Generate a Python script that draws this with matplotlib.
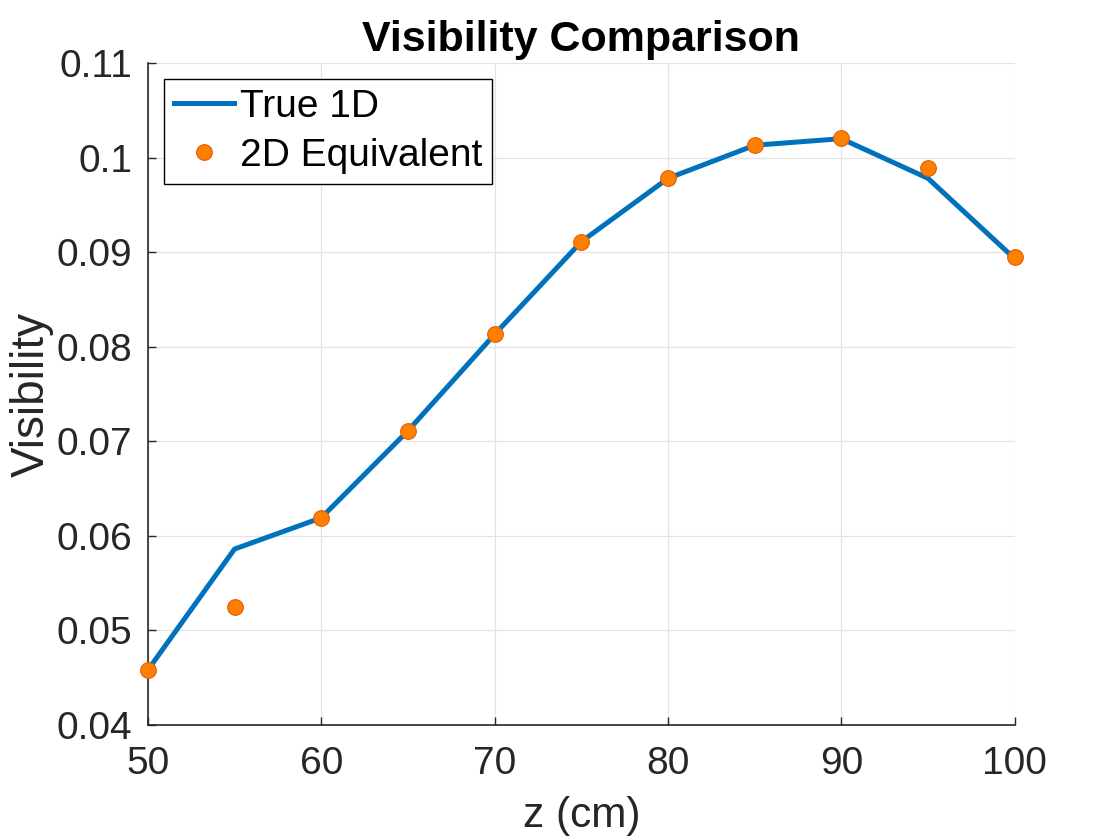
import matplotlib
matplotlib.use("Agg")
import matplotlib.pyplot as plt

z_line = [50, 55, 60, 65, 70, 75, 80, 85, 90, 95, 100]
vis_true = [0.0458, 0.0586, 0.0619, 0.0711, 0.0813, 0.0911, 0.0978, 0.1013, 0.1020, 0.0978, 0.0893]
z_pts = [50, 55, 60, 65, 70, 75, 80, 85, 90, 95, 100]
vis_2d = [0.0458, 0.0525, 0.0619, 0.0711, 0.0813, 0.0911, 0.0978, 0.1013, 0.1021, 0.0989, 0.0895]
xticks = [50, 60, 70, 80, 90, 100]
yticks = [0.04, 0.05, 0.06, 0.07, 0.08, 0.09, 0.1, 0.11]
ytick_labels = ["0.04", "0.05", "0.06", "0.07", "0.08", "0.09", "0.1", "0.11"]

plt.rcParams['font.family'] = ['Liberation Sans', 'DejaVu Sans']
dark = '#262626'

fig = plt.figure(figsize=(11.2, 8.4), dpi=100)
ax = fig.add_axes([0.132, 0.137, 0.774, 0.788])

ax.plot(z_line, vis_true, color='#0072BD', lw=3.6, label='True 1D', zorder=3, clip_on=False)
ax.plot(z_pts, vis_2d, ls='none', marker='o', ms=11.3, color='#FF7F00',
        markeredgecolor='#E0600A', markeredgewidth=0.8, label='2D Equivalent',
        zorder=4, clip_on=False)

ax.set_xlim(50, 100)
ax.set_ylim(0.04, 0.11)
ax.set_xticks(xticks)
ax.set_yticks(yticks)
ax.set_yticklabels(ytick_labels)
ax.tick_params(direction='in', length=6, width=1, colors=dark, labelsize=28)
ax.tick_params(axis='y', pad=11)
ax.tick_params(axis='x', pad=15)
ax.grid(True, color='#E3E3E3', lw=0.9)
ax.set_axisbelow(True)
for s in ['top', 'right']:
    ax.spines[s].set_visible(False)
for s in ['left', 'bottom']:
    ax.spines[s].set_color(dark)
    ax.spines[s].set_linewidth(1.2)

ax.set_xlabel('z (cm)', fontsize=30.5, color=dark, labelpad=10)
ax.set_ylabel('Visibility', fontsize=33, color=dark, labelpad=2)
ax.set_title('Visibility Comparison', fontsize=31, fontweight='bold', color='black', pad=9)

leg = ax.legend(loc='upper left', fontsize=28, frameon=True, fancybox=False,
                edgecolor='black', framealpha=1, borderpad=0.25, handlelength=1.55,
                handletextpad=0.15, labelspacing=0.33, borderaxespad=0.42)
leg.get_frame().set_linewidth(1.0)

fig.savefig('out.png', dpi=100)
